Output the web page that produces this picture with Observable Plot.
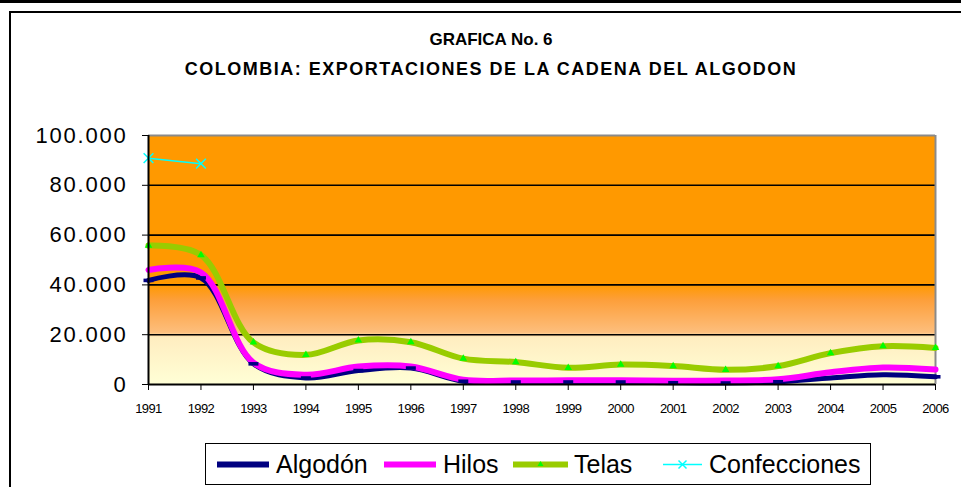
<!DOCTYPE html>
<html>
<head>
<meta charset="utf-8">
<script src="https://cdn.jsdelivr.net/npm/d3@7"></script>
<script src="https://cdn.jsdelivr.net/npm/@observablehq/plot@0.6"></script>
<style>
  html, body { margin: 0; padding: 0; background: #fff; }
  #wrap { position: relative; width: 961px; height: 487px; overflow: hidden; background: #fff;
          font-family: "Liberation Sans", Arial, sans-serif; color: #000; }
  .title { position: absolute; left: 0; width: 982px; text-align: center; font-weight: bold; white-space: nowrap; }
  #legend { position: absolute; left: 205px; top: 443px; width: 664px; height: 40px; border: 1.5px solid #000; }
  .sw { position: absolute; top: 7px; }
  .lt { position: absolute; top: 6px; font-size: 25px; line-height: 28px; white-space: nowrap; }
</style>
</head>
<body>
<div id="wrap">
  <div style="position:absolute;left:0;top:0;width:961px;height:3px;background:#000"></div>
  <div style="position:absolute;left:9px;top:11px;width:960px;height:490px;border-top:2px solid #000;border-left:2px solid #000"></div>
  <div id="chart" style="position:absolute;left:0;top:0"></div>
  <div class="title" style="top:30px;font-size:17px">GRAFICA No. 6</div>
  <div class="title" style="top:59px;font-size:18px;letter-spacing:1.5px">COLOMBIA: EXPORTACIONES DE LA CADENA DEL ALGODON</div>
  <div id="legend"></div>
</div>
<script>
// ---- data ----
const years = [1991, 1992, 1993, 1994, 1995, 1996, 1997, 1998, 1999, 2000, 2001, 2002, 2003, 2004, 2005, 2006];
const algodon = [41800, 42800, 8300, 2600, 5600, 6600, 1300, 1000, 1000, 1000, 700, 600, 1100, 2600, 3900, 3100];
const hilos = [46000, 45000, 8800, 3900, 7200, 7200, 1900, 1600, 1700, 1700, 1500, 1600, 2100, 4900, 6800, 6000];
const telas = [55800, 52000, 16900, 11900, 17700, 17000, 10400, 9000, 6700, 8000, 7400, 5900, 7400, 12600, 15400, 14700];
const confecciones = [90900, 88700, null, null, null, null, null, null, null, null, null, null, null, null, null, null];
const yTicks = [0, 20000, 40000, 60000, 80000, 100000];
const gridTicks = [20000, 40000, 60000, 80000];
const seriesNames = ["Algodón", "Hilos", "Telas", "Confecciones"];
const seriesColors = ["#000080", "#FF00FF", "#99CC00", "#00FFFF"];

const toRows = (vals) => years.map((year, i) => ({year, value: vals[i]})).filter(d => d.value != null);
const rAlg = toRows(algodon), rHil = toRows(hilos), rTel = toRows(telas), rCon = toRows(confecciones);

const fmt = v => d3.format(",")(v).replace(/,/g, ".");
const dash = {draw(ctx) { ctx.rect(-5, -1.8, 10, 3.6); }};

const plot = Plot.plot({
  width: 961, height: 487,
  marginLeft: 148, marginRight: 26, marginTop: 135, marginBottom: 103,
  style: {background: "transparent", fontFamily: "'Liberation Sans', Arial, sans-serif", color: "#000", overflow: "visible"},
  x: {domain: [years[0], years[years.length - 1]]},
  y: {domain: [0, yTicks[yTicks.length - 1]]},
  marks: [
    Plot.frame({fill: "url(#bgGrad)", stroke: "none"}),
    Plot.ruleY(gridTicks, {stroke: "#000", strokeWidth: 1.6}),
    Plot.ruleY([yTicks[yTicks.length - 1]], {stroke: "#8a8a8a", strokeWidth: 2}),
    Plot.ruleX([years[years.length - 1]], {stroke: "#8a8a8a", strokeWidth: 2}),
    Plot.line(rAlg, {x: "year", y: "value", stroke: seriesColors[0], strokeWidth: 5, curve: "catmull-rom"}),
    Plot.line(rHil, {x: "year", y: "value", stroke: seriesColors[1], strokeWidth: 6, curve: "catmull-rom"}),
    Plot.line(rTel, {x: "year", y: "value", stroke: seriesColors[2], strokeWidth: 6, curve: "catmull-rom"}),
    Plot.line(rCon, {x: "year", y: "value", stroke: seriesColors[3], strokeWidth: 1.5}),
    Plot.dot(rAlg, {x: "year", y: "value", symbol: dash, fill: seriesColors[0], stroke: "none"}),
    Plot.dot(rTel, {x: "year", y: "value", symbol: "triangle2", r: 3.6, fill: "#00FF00", stroke: "none"}),
    Plot.dot(rCon, {x: "year", y: "value", symbol: "times", r: 4.5, stroke: seriesColors[3], strokeWidth: 1.5}),
    Plot.axisX({ticks: years, tickFormat: d => String(d), tickSize: 6, tickPadding: 13, fontSize: 13, label: null}),
    Plot.axisY({ticks: yTicks, tickFormat: fmt, tickSize: 6, tickPadding: 15, fontSize: 22, label: null}),
    Plot.ruleX([years[0]], {stroke: "#000", strokeWidth: 2}),
    Plot.ruleY([yTicks[0]], {stroke: "#000", strokeWidth: 2})
  ]
});

d3.select(plot).insert("defs", ":first-child").html(`
  <linearGradient id="bgGrad" x1="0" y1="0" x2="0" y2="1">
    <stop offset="0" stop-color="#FF9900"/>
    <stop offset="0.60" stop-color="#FF9900"/>
    <stop offset="0.66" stop-color="#FD9F3A"/>
    <stop offset="0.79" stop-color="#FDBE7C"/>
    <stop offset="0.81" stop-color="#FFEDC0"/>
    <stop offset="1" stop-color="#FFFFD6"/>
  </linearGradient>`);
d3.select(plot).selectAll("g[aria-label='y-axis tick label'] text").style("letter-spacing", "1.8px");
d3.select(plot).selectAll("g[aria-label='x-axis tick label'] text").style("letter-spacing", "-0.6px");
document.getElementById("chart").appendChild(plot);

// ---- legend ----
const legend = document.getElementById("legend");
const swLeft = [11, 178, 307, 457];
const swWidth = [52, 52, 55, 39];
const txtLeft = [70, 237, 368, 503];
const swStroke = [6, 6, 6, 1.5];
seriesNames.forEach((name, i) => {
  const w = swWidth[i];
  let marker = "";
  if (i === 2) marker = `<path d="M${w / 2},10 l-3,5 h6z" fill="#00FF00"/>`;
  if (i === 3) marker = `<path d="M${w / 2 - 4},9.5 l8,8 M${w / 2 + 4},9.5 l-8,8" stroke="${seriesColors[3]}" stroke-width="1.5"/>`;
  const sw = document.createElement("div");
  sw.className = "sw";
  sw.style.left = swLeft[i] + "px";
  sw.innerHTML = `<svg width="${w}" height="27"><line x1="0" x2="${w}" y1="13.5" y2="13.5" stroke="${seriesColors[i]}" stroke-width="${swStroke[i]}"/>${marker}</svg>`;
  const t = document.createElement("div");
  t.className = "lt";
  t.style.left = txtLeft[i] + "px";
  t.textContent = name;
  legend.appendChild(sw);
  legend.appendChild(t);
});
</script>
</body>
</html>
